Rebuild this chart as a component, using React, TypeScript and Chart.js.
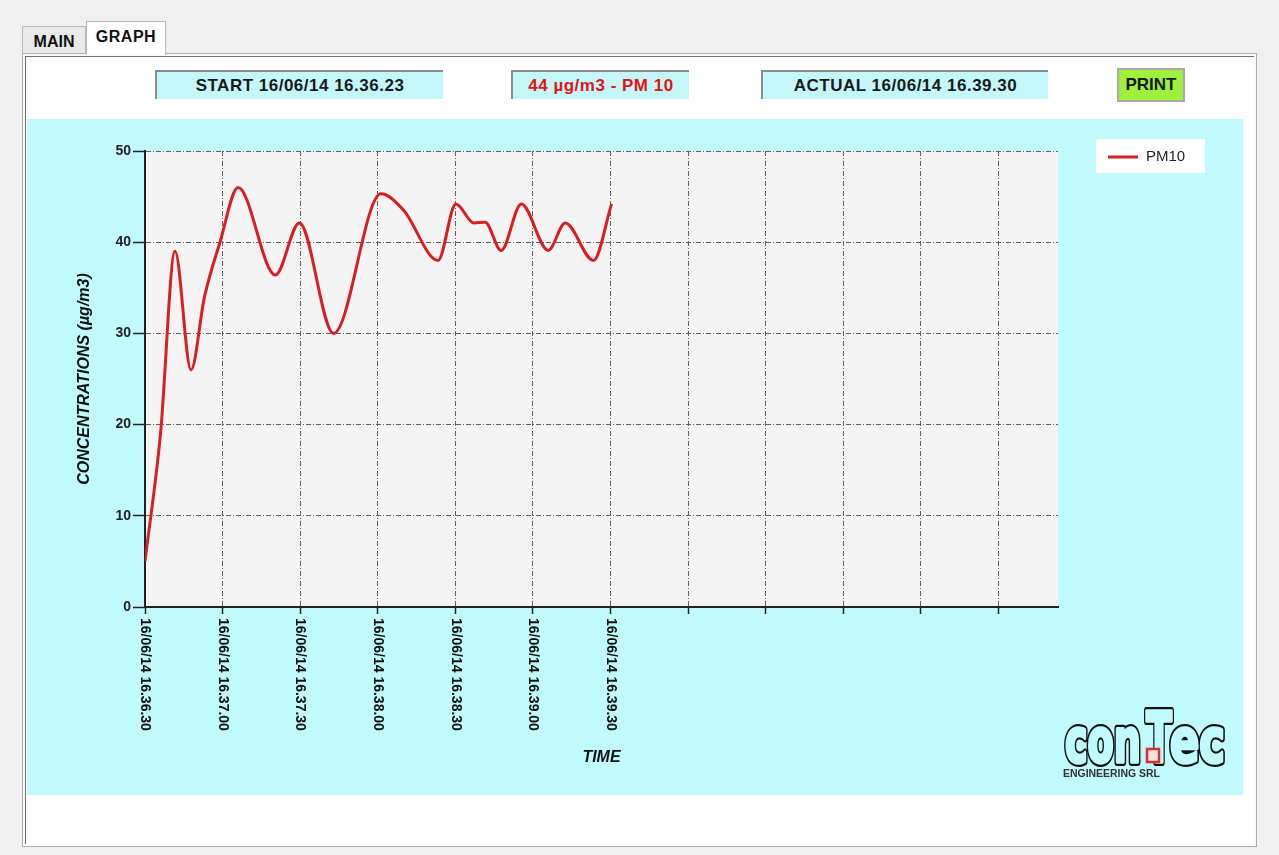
import React, { useEffect, useRef } from "react";
import { Chart, registerables } from "chart.js";

Chart.register(...registerables);

// ---- data (seconds after 16:36:30 and PM10 concentration) ----
const sampleSeconds = [0, 6, 11.6, 17.8, 23, 29, 36, 50.4, 59.7, 72.9, 91.2, 100, 113.3, 120.2, 127.2, 131.5, 137.7, 145.5, 155.9, 162.5, 173.4, 180.4];
const pm10Values = [5, 19, 39, 26, 34, 40, 46, 36.4, 42.1, 30, 45.3, 43.5, 38, 44.2, 42.1, 42.2, 39.1, 44.2, 39.1, 42.1, 38, 44.2];
const xTickSeconds = [0, 30, 60, 90, 120, 150, 180, 210, 240, 270, 300, 330];
const xTickLabels = [
  "16/06/14 16.36.30",
  "16/06/14 16.37.00",
  "16/06/14 16.37.30",
  "16/06/14 16.38.00",
  "16/06/14 16.38.30",
  "16/06/14 16.39.00",
  "16/06/14 16.39.30",
];
const xAxisMaxSeconds = 353;
const yMin = 0;
const yMax = 50;
const yStep = 10;

const seriesLabel = "PM10";
const startText = "START 16/06/14 16.36.23";
const valueText = "44 µg/m3 - PM 10";
const actualText = "ACTUAL 16/06/14 16.39.30";

const FONT = "'Liberation Sans', Arial, sans-serif";

const plotBg = {
  id: "plotBg",
  beforeDraw(chart: any) {
    const { ctx, chartArea } = chart;
    ctx.save();
    ctx.fillStyle = "#f4f4f4";
    ctx.fillRect(chartArea.left, chartArea.top, chartArea.right - chartArea.left, chartArea.bottom - chartArea.top);
    ctx.restore();
  },
};

const xLabelPlugin = {
  id: "xLabels",
  afterDraw(chart: any) {
    const { ctx, chartArea } = chart;
    const xs = chart.scales.x;
    ctx.save();
    ctx.fillStyle = "#111";
    ctx.font = `bold 14px ${FONT}`;
    ctx.textAlign = "left";
    ctx.textBaseline = "middle";
    xTickLabels.forEach((lab, i) => {
      const px = xs.getPixelForValue(xTickSeconds[i]);
      ctx.save();
      ctx.translate(px, chartArea.bottom + 11);
      ctx.rotate(Math.PI / 2);
      ctx.fillText(lab, 0, 0);
      ctx.restore();
    });
    ctx.restore();
  },
};

const legendPlugin = {
  id: "legendBox",
  afterDraw(chart: any) {
    const { ctx } = chart;
    const ds = chart.data.datasets[0];
    const bx = 1069, by = 20, bw = 109, bh = 34;
    ctx.save();
    ctx.fillStyle = "#ffffff";
    ctx.fillRect(bx, by, bw, bh);
    ctx.strokeStyle = ds.borderColor;
    ctx.lineWidth = 3;
    ctx.beginPath();
    ctx.moveTo(bx + 12, by + 18);
    ctx.lineTo(bx + 42, by + 18);
    ctx.stroke();
    ctx.fillStyle = "#222";
    ctx.font = `15px ${FONT}`;
    ctx.textAlign = "left";
    ctx.textBaseline = "middle";
    ctx.fillText(ds.label, bx + 50, by + 18);
    ctx.restore();
  },
};

function ChartCanvas() {
  const ref = useRef<HTMLCanvasElement>(null);
  useEffect(() => {
    const canvas = ref.current!;
    const chart = new Chart(canvas, {
      type: "line",
      data: {
        datasets: [
          {
            label: seriesLabel,
            data: sampleSeconds.map((t, i) => ({ x: t, y: pm10Values[i] })),
            borderColor: "#d9201f",
            borderWidth: 3,
            pointRadius: 0,
            cubicInterpolationMode: "monotone",
            fill: false,
          },
        ],
      },
      options: {
        animation: false,
        responsive: false,
        maintainAspectRatio: false,
        events: [],
        layout: { padding: { left: 0, top: 32, right: 185, bottom: 0 } },
        plugins: { legend: { display: false }, tooltip: { enabled: false } },
        scales: {
          x: {
            type: "linear",
            min: 0,
            max: xAxisMaxSeconds,
            afterBuildTicks: (s: any) => {
              s.ticks = xTickSeconds.map((v) => ({ value: v }));
            },
            afterFit: (s: any) => {
              s.height = 188;
            },
            ticks: { display: false },
            grid: { color: "#606060", lineWidth: 1, drawTicks: true, tickLength: 7, tickColor: "#222", tickWidth: 1.5 },
            border: { display: true, color: "#222", width: 2, dash: [5, 2, 1, 2] },
            title: {
              display: true,
              text: "TIME",
              color: "#111",
              font: { family: FONT, size: 16, weight: "bold", style: "italic" },
              padding: { top: 0, bottom: 27.4 },
            },
          },
          y: {
            min: yMin,
            max: yMax,
            afterFit: (s: any) => {
              s.width = 118;
            },
            ticks: { stepSize: yStep, color: "#222", padding: 2, font: { family: FONT, size: 14, weight: "bold" } },
            grid: { color: "#606060", lineWidth: 1, tickLength: 12, tickColor: "#222", tickWidth: 1.5 },
            border: { display: true, color: "#222", width: 2, dash: [5, 2, 1, 2] },
            title: {
              display: true,
              text: "CONCENTRATIONS (µg/m3)",
              color: "#111",
              font: { family: FONT, size: 16, weight: "bold", style: "italic" },
              padding: { top: 48.4, bottom: 0 },
            },
          },
        },
      } as any,
      plugins: [plotBg, xLabelPlugin, legendPlugin],
    });
    return () => chart.destroy();
  }, []);
  return <canvas ref={ref} width={1216} height={676} style={{ width: 1216, height: 676, display: "block" }} />;
}

const boxStyle = (left: number, width: number, color: string): React.CSSProperties => ({
  position: "absolute",
  left,
  top: 70,
  width,
  height: 29,
  boxSizing: "border-box",
  background: "#c3f7fa",
  borderTop: "2px solid #8c8c8c",
  borderLeft: "2px solid #8c8c8c",
  color,
  fontWeight: "bold",
  fontSize: 17,
  letterSpacing: 0.5,
  display: "flex",
  alignItems: "center",
  justifyContent: "center",
  whiteSpace: "nowrap",
});

function LogoWord({ x, size, len, text }: { x: number; size: number; len: number; text: string }) {
  const base = {
    x,
    y: 62,
    fontFamily: "'DejaVu Sans', sans-serif",
    fontWeight: 900 as any,
    fontSize: size,
    textLength: len,
    lengthAdjust: "spacingAndGlyphs",
    strokeLinejoin: "round" as any,
  };
  return (
    <g>
      <text {...base} fill="#111" stroke="#111" strokeWidth={8}>{text}</text>
      <text {...base} fill="#c0fafc" stroke="#c0fafc" strokeWidth={3.5}>{text}</text>
    </g>
  );
}

function Logo() {
  return (
    <svg width={180} height={85} style={{ position: "absolute", left: 1058, top: 700 }}>
      <LogoWord x={7} size={60} len={76} text="con" />
      <LogoWord x={88} size={70} len={26} text="T" />
      <LogoWord x={112} size={60} len={55} text="ec" />
      <rect x={89} y={49} width={12} height={13} fill="#fbe3e3" stroke="#e0302e" strokeWidth={2.5} />
      <text x={5} y={77} fontFamily={FONT} fontWeight="bold" fontSize={10} textLength={97} lengthAdjust="spacingAndGlyphs" fill="#333">ENGINEERING SRL</text>
    </svg>
  );
}

export default function App() {
  return (
    <div style={{ position: "absolute", left: 0, top: 0, width: 1279, height: 855, background: "#f0f0f0", overflow: "hidden", fontFamily: FONT }}>
      {/* tabs */}
      <div style={{ position: "absolute", left: 22, top: 26, width: 64, height: 27, boxSizing: "border-box", background: "#e9e9e9", border: "1px solid #b8b8b8", borderBottom: "none", fontWeight: "bold", fontSize: 16, color: "#111", display: "flex", alignItems: "center", justifyContent: "center", paddingTop: 3 }}>MAIN</div>
      <div style={{ position: "absolute", left: 86, top: 21, width: 80, height: 34, boxSizing: "border-box", background: "#ffffff", border: "1px solid #b8b8b8", borderBottom: "none", fontWeight: "bold", fontSize: 16, letterSpacing: 0.5, color: "#111", display: "flex", justifyContent: "center", paddingTop: 6, zIndex: 3 }}>GRAPH</div>
      {/* panel */}
      <div style={{ position: "absolute", left: 22, top: 53, width: 1235, height: 794, boxSizing: "border-box", background: "#fafafa", border: "1px solid #adadad" }} />
      <div style={{ position: "absolute", left: 25, top: 56, width: 1229, height: 788, boxSizing: "border-box", background: "#ffffff", borderTop: "1px solid #707070", borderLeft: "1px solid #707070" }} />
      {/* header boxes */}
      <div style={boxStyle(155, 288, "#1a1a1a")}>{startText}</div>
      <div style={boxStyle(511, 178, "#e01414")}>{valueText}</div>
      <div style={boxStyle(761, 287, "#1a1a1a")}>{actualText}</div>
      <div style={{ position: "absolute", left: 1117, top: 68, width: 68, height: 34, boxSizing: "border-box", background: "#9ef03c", border: "2px solid #a8a8a8", fontWeight: "bold", fontSize: 17, color: "#1a1a1a", display: "flex", alignItems: "center", justifyContent: "center" }}>PRINT</div>
      {/* cyan chart area */}
      <div style={{ position: "absolute", left: 27, top: 119, width: 1216, height: 676, background: "#c0fafc" }}>
        <ChartCanvas />
      </div>
      <Logo />
    </div>
  );
}
